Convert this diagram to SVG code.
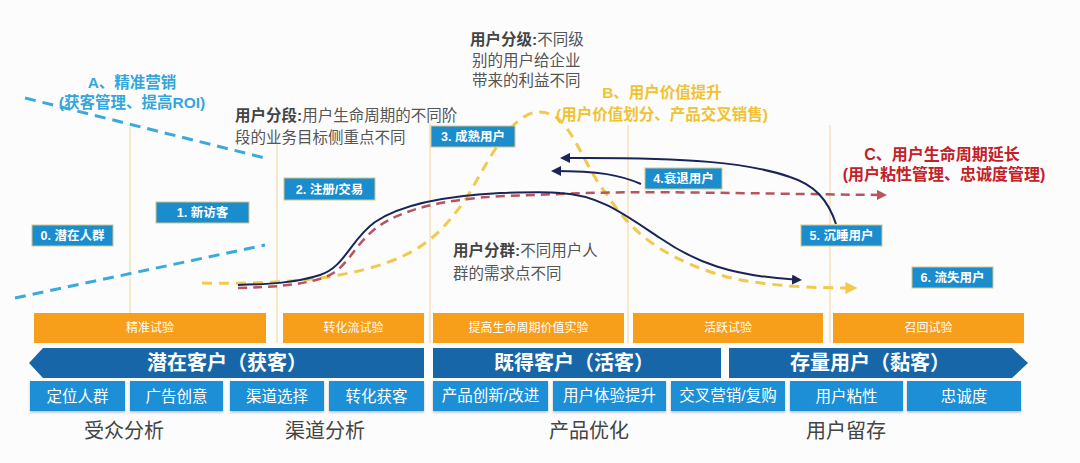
<svg xmlns="http://www.w3.org/2000/svg" width="1080" height="463" viewBox="0 0 1080 463">
<defs>
<style>
.cjk{font-family:"Liberation Sans","Noto Sans CJK SC",sans-serif}
.vline{stroke:#f0dca6;stroke-width:1.2;fill:none}
.node rect{fill:#1a8dcf;stroke:#d8c47e;stroke-width:1}
.node text{fill:#fff;font-size:12.5px;font-weight:bold;text-anchor:middle}
.bar rect{fill:#f79e1b}
.bar text{fill:#fff;font-size:12px;text-anchor:middle}
.band{fill:#1766a8}
.bandtxt{fill:#fff;font-size:20px;font-weight:bold;text-anchor:middle}
.sub rect{fill:#1c8fd6}
.sub text{fill:#fff;font-size:15.5px;text-anchor:middle}
.lbl{fill:#444;font-size:20px;text-anchor:middle}
.note{fill:#555;font-size:15.5px}
.note tspan.b{font-weight:bold;fill:#444}
.bluedash{stroke:#3aa9db;stroke-width:3;stroke-dasharray:11 7;fill:none}
.yellowdash{stroke:#f2c94c;stroke-width:3;stroke-dasharray:10 7;fill:none}
.reddash{stroke:#b7545e;stroke-width:2.5;stroke-dasharray:9 6;fill:none}
.navy{stroke:#1b2458;stroke-width:2;fill:none}
</style>
<marker id="mNavy" viewBox="0 0 10 10" refX="8" refY="5" markerWidth="5" markerHeight="5" orient="auto"><path d="M0,0 L10,5 L0,10 z" fill="#1b2458"/></marker>
<marker id="mRed" viewBox="0 0 10 10" refX="8" refY="5" markerWidth="4" markerHeight="4" orient="auto"><path d="M0,0 L10,5 L0,10 z" fill="#b7545e"/></marker>
<marker id="mYel" viewBox="0 0 10 10" refX="8" refY="5" markerWidth="4" markerHeight="4" orient="auto"><path d="M0,0 L10,5 L0,10 z" fill="#f2c94c"/></marker>
<filter id="sh" x="-5%" y="-10%" width="110%" height="130%"><feDropShadow dx="0" dy="1.5" stdDeviation="1" flood-color="#000" flood-opacity="0.25"/></filter>
</defs>
<rect width="1080" height="463" fill="#fcfcfd"/>

<g id="guides">
<line class="vline" x1="130" y1="127" x2="130" y2="343"/>
<line class="vline" x1="277" y1="143" x2="277" y2="343"/>
<line class="vline" x1="430" y1="123" x2="430" y2="343"/>
<line class="vline" x1="628" y1="125" x2="628" y2="343"/>
<line class="vline" x1="830" y1="125" x2="830" y2="343"/>
</g>

<g id="connectors">
<path class="bluedash" d="M25,98 L265,158"/>
<path class="bluedash" d="M15,298 L265,245"/>
<path class="yellowdash" marker-end="url(#mYel)" d="M202,283 C260,284 320,282 370,268 C420,254 440,235 465,200 C490,160 510,112 540,112 C570,112 580,160 605,192 C625,222 650,255 727,277 C770,287 820,288 855,288"/>
<path class="reddash" marker-end="url(#mRed)" d="M238,288 C270,287 297,286 323,278 C348,270 353,244 379,226 C404,209 444,199 504,196 L560,194 C640,190 760,194 885,195"/>
<path class="navy" marker-end="url(#mNavy)" d="M238,285 C270,284 295,283 320,275 C345,267 350,240 375,222 C400,205 440,196 500,193 C535,192 550,192 560,193 C600,195 625,215 660,238 C695,262 730,276 800,280"/>
<path class="navy" marker-end="url(#mNavy)" d="M836,224 C828,200 815,185 790,177 C750,163 690,157 562,158"/>
<path class="navy" marker-end="url(#mNavy)" d="M641,184 C620,175 600,171 553,171"/>
</g>

<g id="annotations" class="cjk">
<text x="132" y="88" font-size="15.5" font-weight="bold" fill="#34a6dc" text-anchor="middle">A、精准营销</text>
<text x="132" y="108" font-size="15.5" font-weight="bold" fill="#34a6dc" text-anchor="middle">(获客管理、提高ROI)</text>
<text x="662" y="98" font-size="15.5" font-weight="bold" fill="#f0c232" text-anchor="middle">B、用户价值提升</text>
<text x="662" y="120" font-size="15.5" font-weight="bold" fill="#f0c232" text-anchor="middle">(用户价值划分、产品交叉销售)</text>
<text x="942" y="160" font-size="16" font-weight="bold" fill="#c42028" text-anchor="middle">C、用户生命周期延长</text>
<text x="944" y="180" font-size="16" font-weight="bold" fill="#c42028" text-anchor="middle">(用户粘性管理、忠诚度管理)</text>
<text class="note" x="470" y="45"><tspan class="b">用户分级:</tspan>不同级</text>
<text class="note" x="472" y="66">别的用户给企业</text>
<text class="note" x="472" y="86">带来的利益不同</text>
<text class="note" x="235" y="121"><tspan class="b">用户分段:</tspan>用户生命周期的不同阶</text>
<text class="note" x="235" y="143">段的业务目标侧重点不同</text>
<text class="note" x="453" y="256"><tspan class="b">用户分群:</tspan>不同用户人</text>
<text class="note" x="453" y="279">群的需求点不同</text>
</g>

<g id="n0" class="node cjk"><rect x="32" y="225" width="81" height="21"/><text x="72.5" y="240">0. 潜在人群</text></g>
<g id="n1" class="node cjk"><rect x="156" y="202" width="93" height="21"/><text x="202.5" y="217">1. 新访客</text></g>
<g id="n2" class="node cjk"><rect x="284" y="178" width="91" height="22"/><text x="329.5" y="193.5">2. 注册/交易</text></g>
<g id="n3" class="node cjk"><rect x="431" y="126" width="84" height="21"/><text x="473" y="141">3. 成熟用户</text></g>
<g id="n4" class="node cjk"><rect x="645" y="168" width="77" height="21"/><text x="683.5" y="183">4.衰退用户</text></g>
<g id="n5" class="node cjk"><rect x="801" y="225" width="81" height="21"/><text x="841.5" y="240">5. 沉睡用户</text></g>
<g id="n6" class="node cjk"><rect x="912" y="267" width="81" height="21"/><text x="952.5" y="282">6. 流失用户</text></g>

<g id="bars" class="bar cjk">
<g id="bar1"><rect x="34" y="313" width="232" height="30"/><text x="150" y="332">精准试验</text></g>
<g id="bar2"><rect x="283" y="313" width="141" height="30"/><text x="353.5" y="332">转化流试验</text></g>
<g id="bar3"><rect x="433" y="313" width="191" height="30"/><text x="528.5" y="332">提高生命周期价值实验</text></g>
<g id="bar4"><rect x="633" y="313" width="190" height="30"/><text x="728" y="332">活跃试验</text></g>
<g id="bar5"><rect x="833" y="313" width="191" height="30"/><text x="928.5" y="332">召回试验</text></g>
</g>

<g id="bands" class="cjk">
<g id="band1"><polygon class="band" points="29,363 43,348 424,348 424,378 43,378"/><text class="bandtxt" x="227" y="370">潜在客户（获客）</text></g>
<g id="band2"><rect class="band" x="433" y="348" width="288" height="30"/><text class="bandtxt" x="574" y="370">既得客户（活客）</text></g>
<g id="band3"><polygon class="band" points="729,348 1012,348 1028,363 1012,378 729,378"/><text class="bandtxt" x="870" y="370">存量用户（黏客）</text></g>
</g>

<g id="subs" class="sub cjk">
<g id="s1"><rect x="30" y="381" width="95" height="30" filter="url(#sh)"/><text x="77.5" y="402">定位人群</text></g>
<g id="s2"><rect x="130" y="381" width="93" height="30" filter="url(#sh)"/><text x="176.5" y="402">广告创意</text></g>
<g id="s3"><rect x="230" y="381" width="94" height="30" filter="url(#sh)"/><text x="277" y="402">渠道选择</text></g>
<g id="s4"><rect x="329" y="381" width="95" height="30" filter="url(#sh)"/><text x="376.5" y="402">转化获客</text></g>
<g id="s5"><rect x="433" y="381" width="115" height="30" filter="url(#sh)"/><text x="490.5" y="401" font-size="14">产品创新/改进</text></g>
<g id="s6"><rect x="553" y="381" width="113" height="30" filter="url(#sh)"/><text x="609.5" y="401" font-size="14">用户体验提升</text></g>
<g id="s7"><rect x="671" y="381" width="114" height="30" filter="url(#sh)"/><text x="728" y="401" font-size="14">交叉营销/复购</text></g>
<g id="s8"><rect x="790" y="381" width="113" height="30" filter="url(#sh)"/><text x="846.5" y="402">用户粘性</text></g>
<g id="s9"><rect x="907" y="381" width="114" height="30" filter="url(#sh)"/><text x="964" y="402">忠诚度</text></g>
</g>

<g id="labels" class="cjk">
<text class="lbl" x="124" y="438">受众分析</text>
<text class="lbl" x="325" y="438">渠道分析</text>
<text class="lbl" x="589" y="438">产品优化</text>
<text class="lbl" x="846" y="438">用户留存</text>
</g>
</svg>
